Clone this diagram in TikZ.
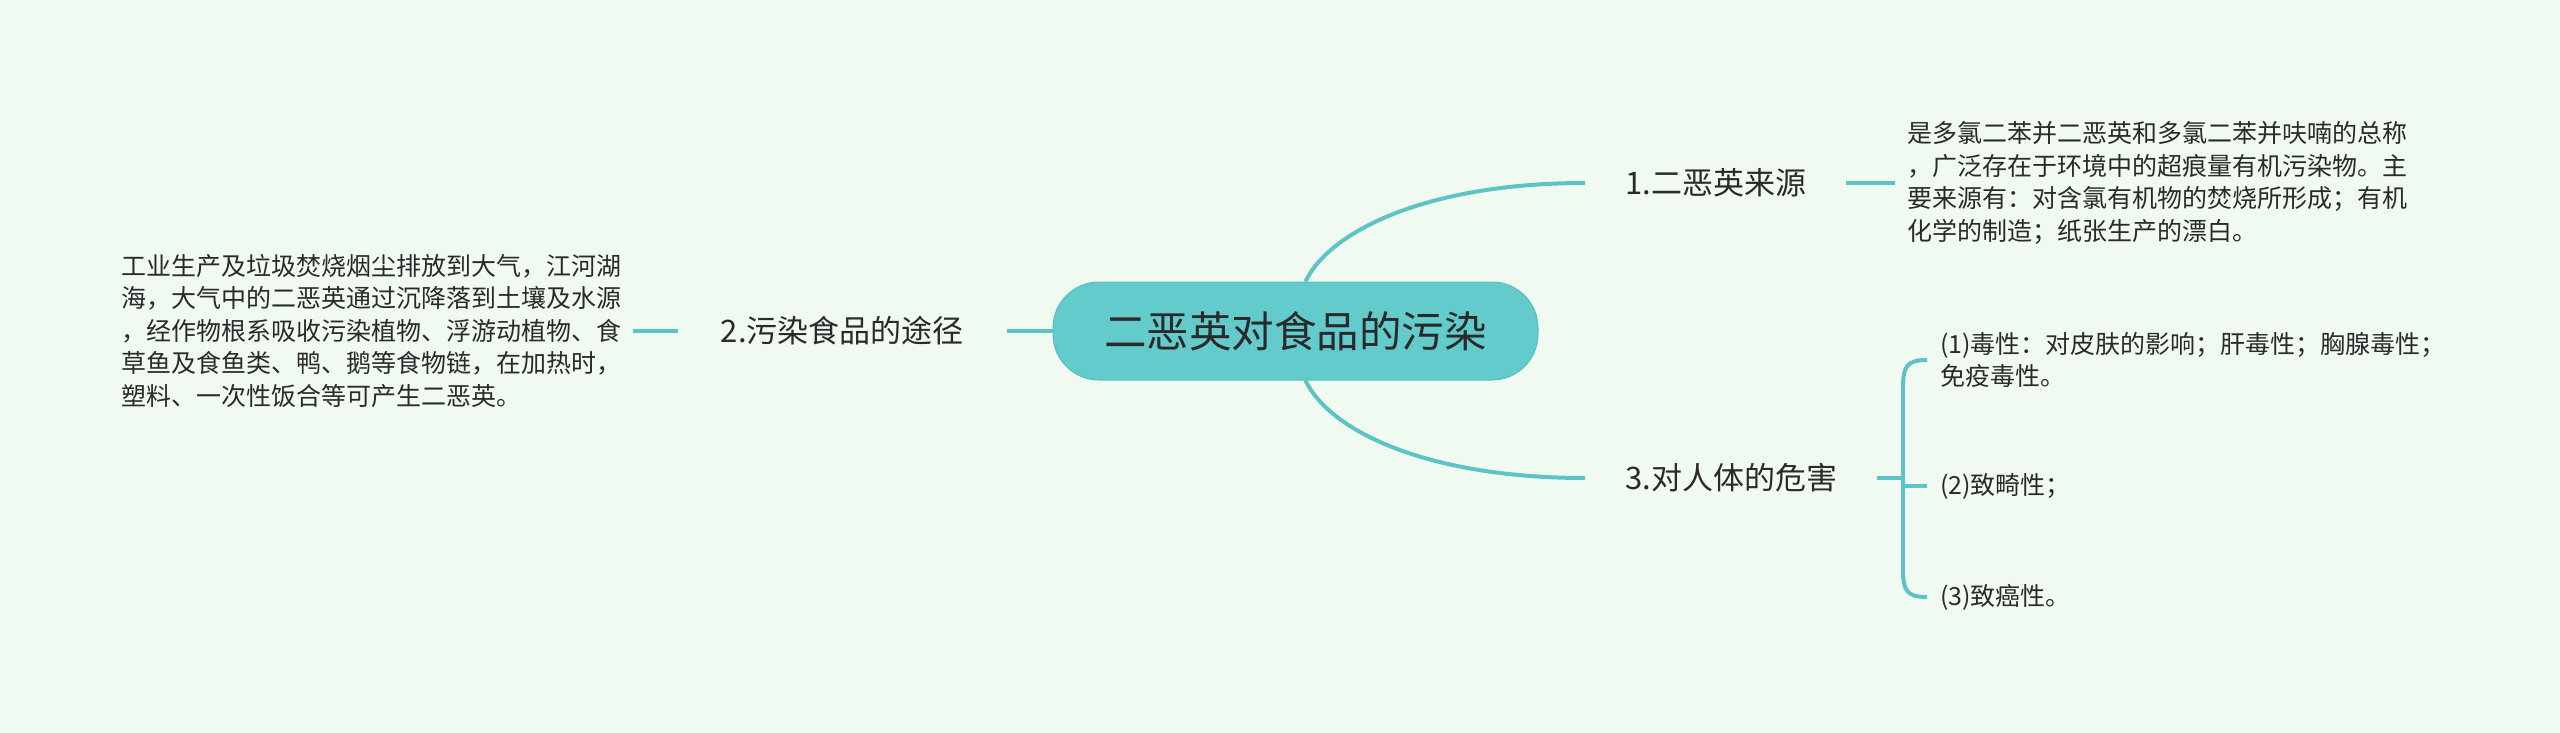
\documentclass[tikz,border=0pt]{standalone}
\usepackage{fontspec}
\setmainfont{Noto Sans CJK SC}
\usetikzlibrary{calc}
\definecolor{bgc}{HTML}{F1FAF1}
\definecolor{rootc}{HTML}{64CBCC}
\definecolor{rootd}{HTML}{57BEC1}
\definecolor{lc}{HTML}{5EC3C6}
\definecolor{tc}{HTML}{2A2A2A}
\begin{document}
\begin{tikzpicture}[x=1pt,y=-1pt,
  conn/.style={draw=lc, line width=4pt},
  rootbox/.style={fill=rootc, draw=rootd, line width=1pt, rounded corners=46pt, minimum width=485pt, minimum height=98pt, font=\fontsize{42.5}{50}\selectfont, text=tc, inner sep=0pt},
  branch/.style={font=\fontsize{31}{36}\selectfont, text=tc, inner ysep=4pt},
  desc/.style={font=\fontsize{25}{32.5}\selectfont, text=tc, align=left, inner ysep=2pt},
]
\fill[bgc] (0,0) rectangle (2560,733);
\useasboundingbox (0,0) rectangle (2560,733);

\node[rootbox] (root) at (1295.5,331) {二恶英对食品的污染};

\node[branch, anchor=west, inner xsep=40pt] (b1) at (1585,183) {1.二恶英来源};
\node[desc, anchor=west, inner xsep=12pt] (d1) at (1895,183) {是多氯二苯并二恶英和多氯二苯并呋喃的总称\\，广泛存在于环境中的超痕量有机污染物。主\\要来源有：对含氯有机物的焚烧所形成；有机\\化学的制造；纸张生产的漂白。};

\node[branch, anchor=east, inner xsep=43pt] (b2) at (1007,331) {2.污染食品的途径};
\node[desc, anchor=east, inner xsep=11pt] (d2) at (633,331) {工业生产及垃圾焚烧烟尘排放到大气，江河湖\\海，大气中的二恶英通过沉降落到土壤及水源\\，经作物根系吸收污染植物、浮游动植物、食\\草鱼及食鱼类、鸭、鹅等食物链，在加热时，\\塑料、一次性饭合等可产生二恶英。};

\node[branch, anchor=west, inner xsep=40pt] (b3) at (1585,478) {3.对人体的危害};

\node[desc, anchor=west, inner xsep=13pt] (i1) at (1927,360) {(1)毒性：对皮肤的影响；肝毒性；胸腺毒性；\\免疫毒性。};
\node[desc, anchor=west, inner xsep=13pt] (i2) at (1927,486) {(2)致畸性；};
\node[desc, anchor=west, inner xsep=13pt] (i3) at (1927,597) {(3)致癌性。};

\coordinate (jx) at (1903,478);

\draw[conn] ([xshift=10pt]root.north) .. controls +(25,-52) and +(-155,0) .. (b1.west);
\draw[conn] ([xshift=10pt]root.south) .. controls +(25,52) and +(-155,0) .. (b3.west);
\draw[conn] (root.west) -- (b2.east);
\draw[conn] (b2.west) -- (d2.east);
\draw[conn] (b1.east) -- (d1.west);
\draw[conn] (b3.east) -- (jx);
\draw[conn] (i1.west) .. controls +(-20,0) and +(0,-22) .. ($(jx |- i1.west)+(0,28)$) -- ($(jx |- i3.west)+(0,-28)$) .. controls +(0,22) and +(-20,0) .. (i3.west);
\draw[conn] (jx |- i2.west) -- (i2.west);
\end{tikzpicture}
\end{document}
